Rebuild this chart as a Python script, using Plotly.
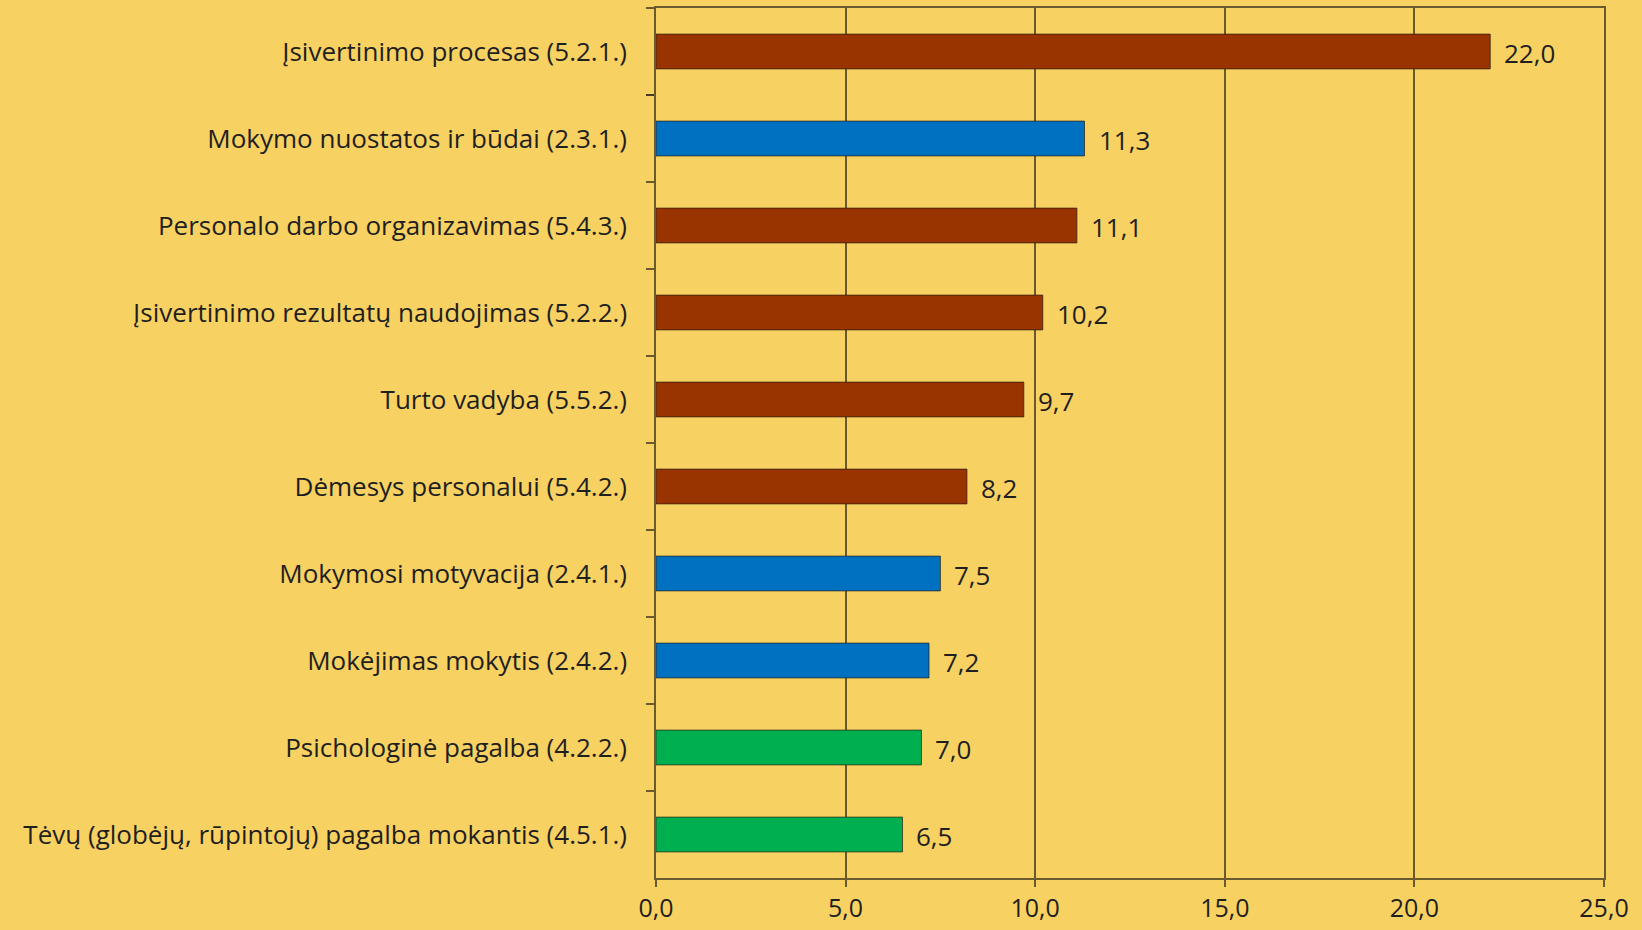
import plotly.graph_objects as go

categories = [
    "Įsivertinimo procesas (5.2.1.)",
    "Mokymo nuostatos ir būdai (2.3.1.)",
    "Personalo darbo organizavimas (5.4.3.)",
    "Įsivertinimo rezultatų naudojimas (5.2.2.)",
    "Turto vadyba (5.5.2.)",
    "Dėmesys personalui (5.4.2.)",
    "Mokymosi motyvacija (2.4.1.)",
    "Mokėjimas mokytis (2.4.2.)",
    "Psichologinė pagalba (4.2.2.)",
    "Tėvų (globėjų, rūpintojų) pagalba mokantis (4.5.1.)",
]
values = [22.0, 11.3, 11.1, 10.2, 9.7, 8.2, 7.5, 7.2, 7.0, 6.5]
groups = ["5", "2", "5", "5", "5", "5", "2", "2", "4", "4"]
group_colors = {"5": "#993300", "2": "#0070C0", "4": "#00B050"}
x_ticks = [0, 5, 10, 15, 20, 25]

bg = "#F7D162"
line_c = "rgba(60,50,30,0.75)"
font_fam = "Open Sans, Liberation Sans, sans-serif"
fs = 26

fig = go.Figure(go.Bar(
    y=categories,
    x=values,
    orientation="h",
    marker=dict(color=[group_colors[g] for g in groups],
                line=dict(color="rgba(40,30,20,0.7)", width=1)),
    hoverinfo="x+y",
))

for c, v in zip(categories, values):
    fig.add_annotation(
        x=v, y=c, text=f"{v:.1f}".replace(".", ","),
        xanchor="left", xshift=12, yshift=-1, showarrow=False,
        font=dict(size=fs, color="#1f1f1f", family=font_fam),
    )

fig.update_layout(
    width=1642, height=930,
    paper_bgcolor=bg, plot_bgcolor=bg,
    margin=dict(l=656, r=38, t=8, b=52),
    bargap=0.6,
    showlegend=False,
    separators=",.",
    font=dict(family=font_fam, size=fs, color="#1f1f1f"),
)
fig.update_xaxes(
    range=[0, 25], tickvals=x_ticks, tickformat=".1f",
    tickfont=dict(size=25),
    showgrid=True, gridcolor=line_c, gridwidth=1.5,
    showline=True, linecolor=line_c, linewidth=1.5, mirror=True,
    ticks="outside", ticklen=7, tickcolor=line_c, tickwidth=1.5,
    zeroline=False, fixedrange=True, ticklabelstandoff=0, automargin=False,
)
fig.update_yaxes(
    autorange="reversed", type="category",
    showgrid=False,
    showline=True, linecolor=line_c, linewidth=1.5, mirror=True,
    ticks="outside", ticklen=8, tickcolor=line_c, tickwidth=1.5,
    tickson="boundaries", ticklabelstandoff=22, fixedrange=True, automargin=False,
)

fig.write_html(
    "out.html",
    config={"displayModeBar": False},
    post_script="document.body.style.margin='0';document.body.style.background='%s';" % bg,
)
